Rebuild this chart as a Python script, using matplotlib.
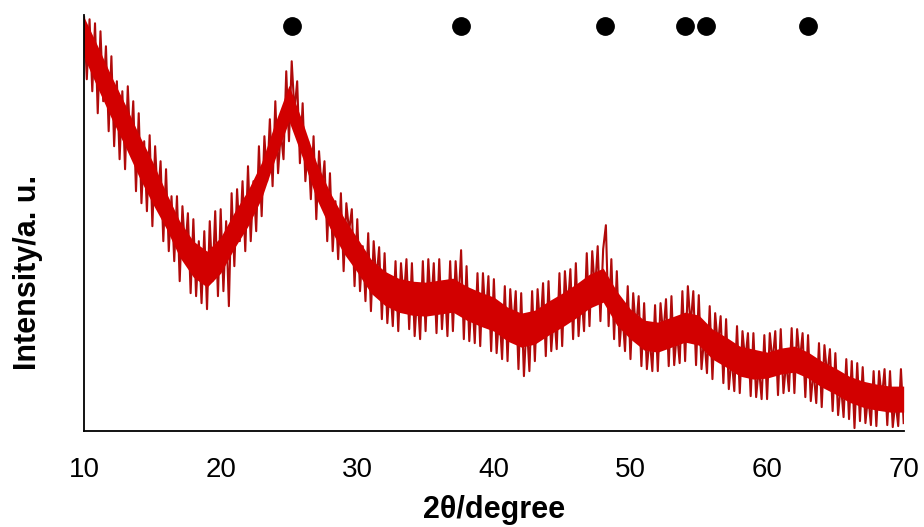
import matplotlib
matplotlib.use("Agg")
import matplotlib.pyplot as plt
import numpy as np

# 2-theta grid for the raw trace, 0.2 degree steps from 10 to 70
two_theta_start = 10.0
two_theta_step = 0.2

# raw intensity (a.u.), five points per degree;
# these carry the noise spikes that stick out of the dense band
intensity = [
    414, 352, 412, 340, 408,   # 10
    318, 400, 330, 385, 300,   # 11
    375, 285, 350, 272, 340,   # 12
    262, 345, 280, 330, 240,   # 13
    318, 228, 290, 220, 296,   # 14
    205, 285, 230, 270, 190,   # 15
    262, 180, 235, 170, 235,   # 16
    150, 225, 180, 218, 138,   # 17
    212, 135, 190, 128, 200,   # 18
    122, 210, 150, 220, 135,   # 19
    222, 140, 210, 125, 238,   # 20
    165, 242, 190, 250, 180,   # 21
    265, 190, 250, 200, 285,   # 22
    215, 295, 250, 312, 245,   # 23
    330, 258, 300, 272, 360,   # 24
    290, 370, 320, 350, 268,   # 25
    328, 250, 290, 232, 295,   # 26
    212, 280, 240, 270, 190,   # 27
    258, 180, 230, 172, 238,   # 28
    160, 228, 200, 222, 145,   # 29
    212, 140, 185, 130, 198,   # 30
    120, 190, 150, 184, 112,   # 31
    178, 108, 150, 105, 170,   # 32
    100, 168, 130, 172, 102,   # 33
    168, 95, 140, 92, 170,     # 34
    100, 172, 120, 168, 98,    # 35
    172, 102, 150, 95, 170,    # 36
    100, 170, 125, 181, 92,    # 37
    165, 90, 140, 88, 158,     # 38
    85, 158, 110, 155, 80,     # 39
    152, 78, 120, 72, 145,     # 40
    70, 142, 100, 140, 62,     # 41
    138, 55, 110, 60, 140,     # 42
    70, 142, 100, 148, 75,     # 43
    150, 80, 120, 82, 158,     # 44
    85, 160, 120, 162, 92,     # 45
    168, 95, 140, 100, 178,    # 46
    105, 180, 140, 185, 110,   # 47
    182, 206, 105, 172, 92,    # 48
    160, 85, 120, 80, 145,     # 49
    72, 138, 100, 135, 65,     # 50
    128, 62, 95, 60, 126,      # 51
    60, 128, 95, 132, 65,      # 52
    135, 66, 100, 68, 140,     # 53
    70, 145, 105, 140, 66,     # 54
    136, 62, 95, 58, 125,      # 55
    52, 118, 85, 115, 48,      # 56
    112, 42, 75, 40, 105,      # 57
    38, 100, 70, 98, 35,       # 58
    98, 34, 65, 32, 96,        # 59
    32, 98, 68, 100, 36,       # 60
    102, 38, 70, 40, 103,      # 61
    38, 102, 70, 98, 34,       # 62
    96, 30, 62, 28, 88,        # 63
    24, 86, 55, 82, 20,        # 64
    78, 16, 48, 14, 72,        # 65
    12, 70, 3, 68, 10,         # 66
    64, 8, 36, 6, 60,          # 67
    5, 60, 32, 62, 6,          # 68
    60, 4, 30, 5, 62,          # 69
    8,                         # 70
]

# dense noise band (solid core of the trace), one value per degree 10..70
band_low = [
    374, 343, 313, 285, 255, 228, 203, 174, 154, 144,
    158, 183, 205, 233, 273, 310, 273, 233, 203, 178,
    159, 138, 126, 119, 116, 115, 117, 119, 111, 105,
    100, 90, 84, 87, 96, 104, 113, 123, 129, 106,
    92, 81, 79, 84, 89, 86, 72, 64, 55, 52,
    53, 57, 59, 53, 44, 37, 29, 24, 21, 19,
    19,
]
band_high = [
    414, 385, 355, 327, 297, 270, 239, 210, 190, 180,
    194, 219, 241, 269, 309, 346, 309, 269, 239, 214,
    193, 172, 160, 153, 150, 149, 151, 153, 145, 139,
    134, 124, 118, 121, 130, 138, 147, 157, 163, 140,
    122, 111, 109, 114, 119, 116, 102, 94, 85, 82,
    79, 83, 85, 79, 70, 63, 55, 50, 47, 45,
    45,
]

# phase reflections marked with dots
peak_positions = [25.2, 37.6, 48.1, 54.0, 55.5, 63.0]
marker_level = 405

x_ticks = [10, 20, 30, 40, 50, 60, 70]

plt.rcParams["font.family"] = ["Liberation Sans", "DejaVu Sans"]

two_theta = two_theta_start + two_theta_step * np.arange(len(intensity))
band_x = np.arange(10, 10 + len(band_low))

fig = plt.figure(figsize=(9.24, 5.27), dpi=100)
ax = fig.add_axes([0.091, 0.182, 0.887, 0.789])

# spikes first, solid band drawn over them
ax.plot(two_theta, intensity, color="#b00a0a", linewidth=1.5, zorder=2)
ax.fill_between(band_x, band_low, band_high, color="#d20000",
                linewidth=0, zorder=3)
ax.plot(peak_positions, [marker_level] * len(peak_positions), "o",
        color="black", markersize=12.5, linestyle="none", zorder=4)

ax.set_xlim(10, 70)
ax.set_ylim(0, 416)
ax.set_xticks(x_ticks)
ax.set_yticks([])
ax.tick_params(axis="x", length=0, pad=19, labelsize=20)

for side in ("top", "right"):
    ax.spines[side].set_visible(False)
for side in ("left", "bottom"):
    ax.spines[side].set_linewidth(1.3)
    ax.spines[side].set_color("black")
    ax.spines[side].set_zorder(5)

ax.set_xlabel("2θ/degree", fontsize=22, fontweight="bold", labelpad=8)
ax.set_ylabel("Intensity/a. u.", fontsize=22, fontweight="bold")
ax.yaxis.set_label_coords(-0.05, 0.382)

fig.savefig("out.png", dpi=100)
